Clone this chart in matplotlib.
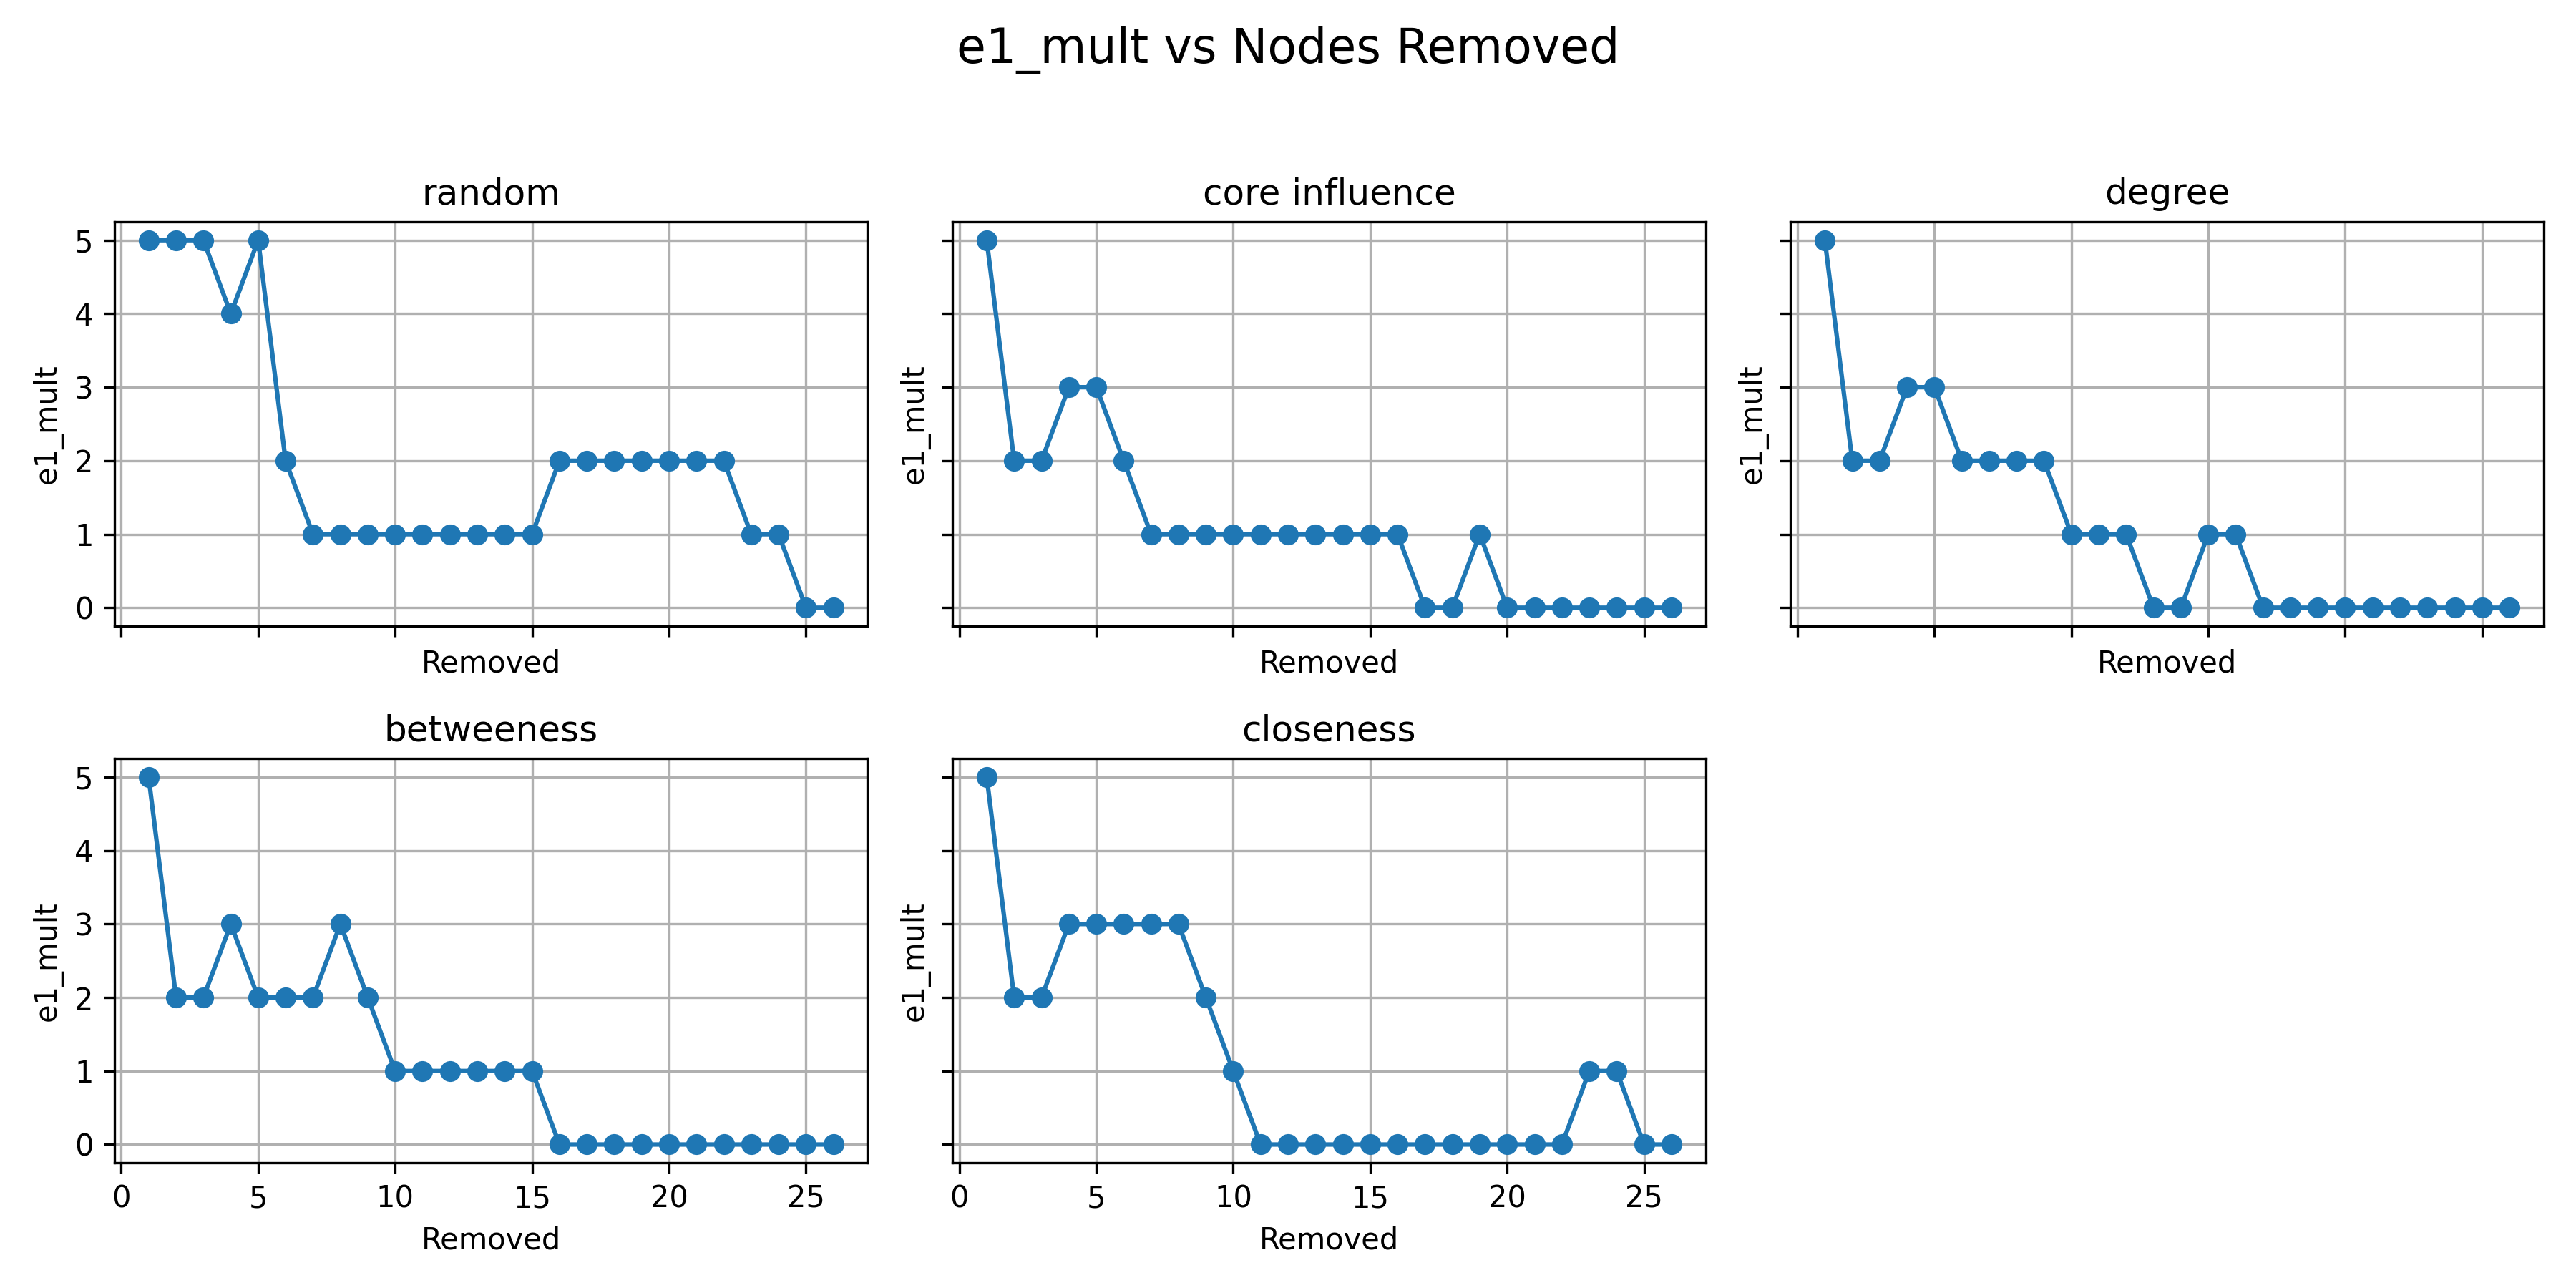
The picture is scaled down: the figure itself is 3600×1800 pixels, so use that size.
import matplotlib
matplotlib.use("Agg")
import matplotlib.pyplot as plt
import numpy as np

removed = np.arange(1, 27)

strategies = ["random", "core influence", "degree", "betweeness", "closeness"]

random_vals = [5, 5, 5, 4, 5, 2, 1, 1, 1, 1, 1, 1, 1, 1, 1, 2, 2, 2, 2, 2, 2, 2, 1, 1, 0, 0]
core_vals = [5, 2, 2, 3, 3, 2, 1, 1, 1, 1, 1, 1, 1, 1, 1, 1, 0, 0, 1, 0, 0, 0, 0, 0, 0, 0]
degree_vals = [5, 2, 2, 3, 3, 2, 2, 2, 2, 1, 1, 1, 0, 0, 1, 1, 0, 0, 0, 0, 0, 0, 0, 0, 0, 0]
betweeness_vals = [5, 2, 2, 3, 2, 2, 2, 3, 2, 1, 1, 1, 1, 1, 1, 0, 0, 0, 0, 0, 0, 0, 0, 0, 0, 0]
closeness_vals = [5, 2, 2, 3, 3, 3, 3, 3, 2, 1, 0, 0, 0, 0, 0, 0, 0, 0, 0, 0, 0, 0, 1, 1, 0, 0]

series = [random_vals, core_vals, degree_vals, betweeness_vals, closeness_vals]

fig, axes = plt.subplots(2, 3, figsize=(12, 6), sharex=True, sharey=True)
axes = axes.flatten()

for ax, name, vals in zip(axes, strategies, series):
    ax.plot(removed, vals, marker="o")
    ax.set_title(name)
    ax.set_xlabel("Removed")
    ax.set_ylabel("e1_mult")
    ax.grid(True)

fig.delaxes(axes[5])
fig.suptitle("e1_mult vs Nodes Removed", fontsize=16)
plt.tight_layout(rect=[0, 0, 1, 0.95])
plt.savefig("out.png", dpi=300)
plt.close()
